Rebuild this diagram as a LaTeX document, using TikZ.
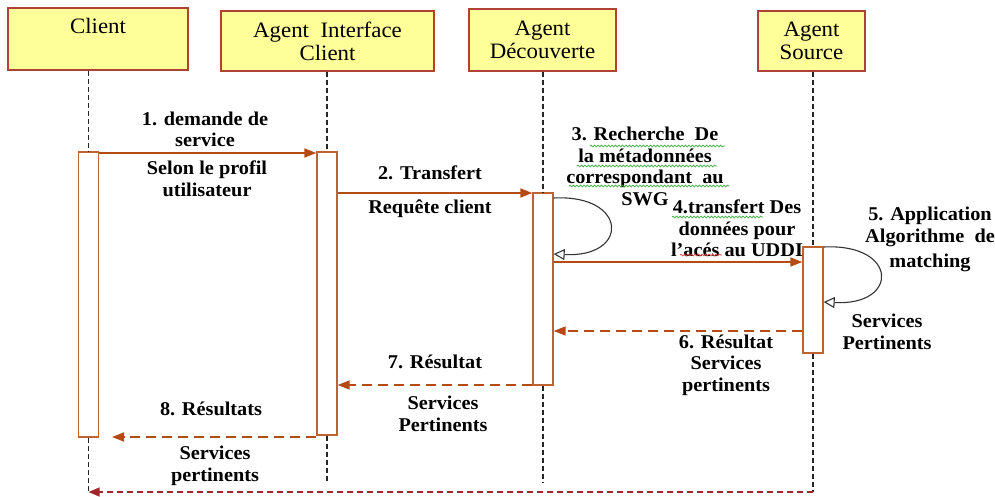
\documentclass[tikz,border=0pt]{standalone}
\usepackage{fontspec}
\setmainfont{Liberation Serif}
\newfontfamily\hdrfont[FakeStretch=1.04]{Liberation Serif}
\newfontfamily\lblfont[FakeStretch=1.04]{Liberation Serif}
\usetikzlibrary{arrows.meta,decorations.pathmorphing}
\definecolor{hdrfill}{RGB}{255,255,153}
\definecolor{hdrline}{RGB}{175,65,55}
\definecolor{actline}{RGB}{192,98,50}
\definecolor{msgcol}{RGB}{180,75,20}
\definecolor{retcol}{RGB}{160,40,45}
\definecolor{spellg}{RGB}{60,170,60}
\definecolor{spellr}{RGB}{230,60,60}
\begin{document}
\begin{tikzpicture}[x=1pt,y=-1pt,
 header/.style={draw=hdrline, fill=hdrfill, line width=1.3pt, align=center, font=\hdrfont\fontsize{22}{23}\selectfont, inner sep=0pt},
 act/.style={draw=actline, fill=white, line width=1.3pt, minimum width=20pt, inner sep=0pt},
 life/.style={draw=black!85, line width=1.2pt, dash pattern=on 5pt off 3pt},
 msg/.style={draw=msgcol, line width=1.5pt, -{Triangle[length=12pt,width=9pt]}},
 ret/.style={msg, dash pattern=on 10pt off 6pt},
 retfinal/.style={draw=retcol, line width=1.3pt, dash pattern=on 6pt off 4pt, -{Triangle[length=11pt,width=9pt]}},
 selfloop/.style={draw=black!80, line width=1.1pt, -{Triangle[open,length=11pt,width=11pt,fill=white]}},
 lbl/.style={font=\lblfont\bfseries\fontsize{19.5}{21.5}\selectfont, align=center, inner sep=0pt},
 wavy/.style={decorate, decoration={snake, amplitude=0.9pt, segment length=3.5pt}, line width=0.7pt}
]
\useasboundingbox (0,0) rectangle (995,496);

% headers
\node[header, minimum width=180pt, minimum height=62pt] (hC) at (98,39) {\raisebox{-3pt}{Client}\\\strut};
\node[header, minimum width=213pt, minimum height=60pt] (hI) at (327.5,41) {Agent\ \ Interface\\Client};
\node[header, minimum width=147pt, minimum height=62pt] (hD) at (542.5,40) {Agent\\D\'ecouverte};
\node[header, minimum width=107pt, minimum height=60pt] (hS) at (811.5,41) {Agent\\Source};

% activation boxes
\node[act, minimum height=285pt] (aC) at (88.5,294.5) {};
\node[act, minimum height=283pt] (aI) at (327,293.5) {};
\node[act, minimum height=192pt] (aD) at (543,289) {};
\node[act, minimum height=106pt] (aS) at (813,300) {};

\coordinate (endC) at (88.5,492);
\coordinate (endI) at (327,482);
\coordinate (endD) at (543,483);
\coordinate (endS) at (813,492);
\coordinate (m8end) at (112,437);

% lifelines
\draw[life] (aC.north |- hC.south) -- (aC.north);
\draw[life] (aC.south) -- (endC);
\draw[life] (aI.north |- hI.south) -- (aI.north);
\draw[life] (aI.south) -- (endI);
\draw[life] (aD.north |- hD.south) -- (aD.north);
\draw[life] (aD.south) -- (endD);
\draw[life] (aS.north |- hS.south) -- (aS.north);
\draw[life] (aS.south) -- (endS);

% messages
\draw[msg] (aC.east |- 0,153) -- (aI.west |- 0,153);
\draw[msg] (aI.east |- 0,193) -- (aD.west |- 0,193);
\draw[msg] (aD.east |- 0,262) -- (aS.west |- 0,262);
\draw[ret] (aS.west |- 0,331) -- (aD.east |- 0,331);
\draw[ret] (aD.west |- 0,385) -- (aI.east |- 0,385);
\draw[ret] (aI.west |- 0,437) -- (m8end);
\draw[retfinal] (endS) -- (endC);

% self loops
\draw[selfloop] (aD.east |- 0,198) .. controls (628,194) and (630,258) .. (aD.east |- 0,254);
\draw[selfloop] (aS.east |- 0,247) .. controls (898,243) and (900,306) .. (aS.east |- 0,302);

% labels
\node[lbl] (l1a) at (205,129.5) {1. demande de\\service};
\node[lbl] (l1b) at (207,178.5) {Selon le profil\\utilisateur};
\node[lbl] (l2a) at (430,173) {2. Transfert};
\node[lbl] (l2b) at (430,209) {Requ\^ete client};
\node[lbl] (l3) at (645,166.5) {3. Recherche\ \ De\\la m\'etadonn\'ees\\correspondant\ \ au\\SWG};
\node[lbl] (l4) at (737,228.5) {4.transfert Des\\donn\'ees pour\\l’ac\'es au UDDI};
\node[lbl] (l5) at (930,239.5) {5. Application\\Algorithme\ \ de\\[4pt]matching};
\node[lbl] (l5b) at (887,332) {Services\\Pertinents};
\node[lbl] (l6) at (726,365) {6. R\'esultat\\Services\\pertinents};
\node[lbl] (l7a) at (435,362) {7. R\'esultat};
\node[lbl] (l7b) at (443,414) {Services\\Pertinents};
\node[lbl] (l8a) at (211,409) {8. R\'esultats};
\node[lbl] (l8b) at (215,466) {Services\\pertinents};

% spell-check underlines
\draw[wavy, spellg] (590,146) -- (725,146);
\draw[wavy, spellg] (577,166) -- (717,166);
\draw[wavy, spellg] (569,186) -- (729,186);
\draw[wavy, spellg] (672,217) -- (763,217);
\draw[wavy, spellr] (680,255) -- (722,255);
\end{tikzpicture}
\end{document}
